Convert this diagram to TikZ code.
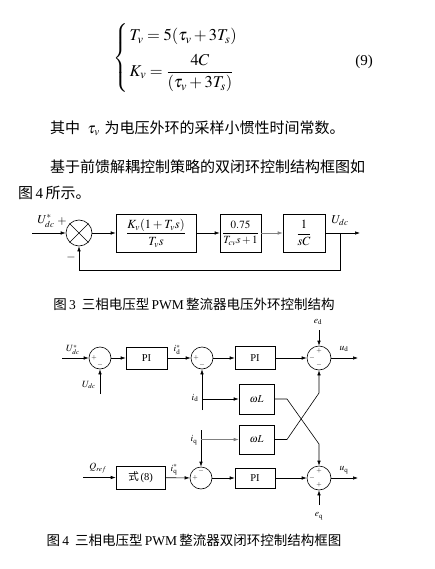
\documentclass[tikz,border=0pt]{standalone}
\usepackage{amsmath}
\usepackage{mathptmx}
\usepackage{fontspec}
\setmainfont{Liberation Serif}
\newfontfamily\cjk{Noto Sans CJK SC}
\usetikzlibrary{arrows.meta}
\tikzset{
  ln/.style={line width=0.6pt},
  ar/.style={ln,-{Latex[length=5pt,width=3.5pt]}},
  blk/.style={draw,ln,rectangle,inner sep=0pt},
  sumc/.style={draw,ln,circle,inner sep=0pt},
  lab/.style={inner sep=0pt,font=\fontsize{9.5}{10}\selectfont},
  sgn/.style={inner sep=0pt,font=\fontsize{7}{8}\selectfont},
  body/.style={inner sep=0pt,anchor=west,font=\fontsize{15}{18}\selectfont},
  captxt/.style={inner sep=0pt,font=\fontsize{13.5}{15}\selectfont},
}
\begin{document}
\begin{tikzpicture}[x=1pt,y=-1pt]
\fill[white] (0,0) rectangle (435,569);
\useasboundingbox (0,0) rectangle (435,569);

% equation
\node[inner sep=0pt,anchor=west,font=\fontsize{16.5}{20}\selectfont] (eq) at (113,58)
  {$\begin{cases} \,T_v = 5(\tau_v + 3T_s)\\[6pt] \,K_v = \dfrac{4C}{(\tau_v + 3T_s)}\end{cases}$};
\node[inner sep=0pt,font=\fontsize{15}{18}\selectfont] (eqn) at (364,62) {(9)};

% body text
\node[body] (t1) at (50,128) {{\cjk 其中}\,\,\,$\tau_v$\,\,{\cjk 为电压外环的采样小惯性时间常数。}};
\node[body] (t2) at (50,167) {\cjk 基于前馈解耦控制策略的双闭环控制结构框图如};
\node[body] (t3) at (18,193) {{\cjk 图}\,4\,{\cjk 所示。}};

% ---------------- Fig 3 ----------------
\coordinate (in3) at (32,233);
\node[sumc,minimum size=26pt] (s0) at (79,233) {};
\draw[ln] (s0.north west) -- (s0.south east) (s0.north east) -- (s0.south west);
\node[blk,minimum width=80pt,minimum height=38pt,font=\fontsize{12.5}{14}\selectfont] (b1) at (156,233) {$\dfrac{K_v(1+T_v s)}{T_v s}$};
\node[blk,minimum width=41pt,minimum height=38pt,font=\fontsize{11}{13}\selectfont] (b2) at (240.5,233) {$\dfrac{0.75}{T_{cv}s+1}$};
\node[blk,minimum width=42pt,minimum height=38pt,font=\fontsize{12.5}{14}\selectfont] (b3) at (304,233) {$\dfrac{1}{sC}$};
\coordinate (out3) at (360,233);
\coordinate (br3) at (340,233);
\coordinate (fb3) at (340,270);
\coordinate (fb3l) at (79,270);

\draw[ar] (in3) -- (s0);
\draw[ar] (s0) -- (b1);
\draw[ar] (b1) -- (b2);
\draw[ar,draw=gray] (b2) -- (b3);
\draw[ar] (b3) -- (out3);
\draw[ar] (br3) -- (fb3) -- (fb3l) -- (s0.south);

\node[lab,font=\fontsize{12}{12}\selectfont] (lu3) at (46,221) {$U_{dc}^{*}$};
\node[lab,font=\fontsize{12}{12}\selectfont] (lp3) at (62,222) {$+$};
\node[lab,font=\fontsize{12}{12}\selectfont] (lm3) at (71,257) {$-$};
\node[lab,font=\fontsize{12}{12}\selectfont] (lo3) at (340,221) {$U_{dc}$};

\node[captxt] (cap3) at (194,304) {{\cjk 图}\,3\;\,{\cjk 三相电压型}\,PWM\,{\cjk 整流器电压外环控制结构}};

% ---------------- Fig 4 ----------------
\node[sumc,minimum size=22pt] (c1) at (100,358) {};
\node[blk,minimum width=41pt,minimum height=22pt,font=\fontsize{10.5}{12}\selectfont] (pi1) at (146.5,358) {PI};
\node[sumc,minimum size=22pt] (c2) at (202,358) {};
\node[blk,minimum width=40pt,minimum height=23pt,font=\fontsize{10.5}{12}\selectfont] (pi2) at (255,358) {PI};
\node[sumc,minimum size=24pt] (c3) at (319,358) {};
\node[blk,minimum width=35pt,minimum height=30pt,font=\fontsize{10.5}{12}\selectfont] (wl1) at (256.5,399) {$\omega L$};
\node[blk,minimum width=35pt,minimum height=29pt,font=\fontsize{10.5}{12}\selectfont] (wl2) at (256.5,439.5) {$\omega L$};
\node[blk,minimum width=49pt,minimum height=23pt,font=\fontsize{10.5}{12}\selectfont] (qb) at (140.5,477.5) {{\cjk 式}\,(8)};
\node[sumc,minimum size=22pt] (c5) at (201,478) {};
\node[blk,minimum width=40pt,minimum height=20pt,font=\fontsize{10.5}{12}\selectfont] (pi3) at (255,478) {PI};
\node[sumc,minimum size=24pt] (c4) at (319,478) {};

\coordinate (in4) at (62,358);
\coordinate (udc4) at (100,394);
\coordinate (id4) at (202,410);
\coordinate (idb) at (202,399);
\coordinate (ud4) at (358,358);
\coordinate (ed4) at (319,330);
\coordinate (x1a) at (287,399);
\coordinate (x1b) at (319,444);
\coordinate (x2a) at (287,439.5);
\coordinate (x2b) at (319,393);
\coordinate (iq4) at (201,430);
\coordinate (iqb) at (201,439.5);
\coordinate (qin) at (83,477.5);
\coordinate (uq4) at (358,478);
\coordinate (eq4) at (319,505);

\draw[ar] (in4) -- (c1);
\draw[ar] (udc4) -- (c1.south);
\draw[ar] (c1) -- (pi1);
\draw[ar] (pi1) -- (c2);
\draw[ar] (id4) -- (c2.south);
\draw[ar] (idb) -- (wl1.west);
\draw[ar] (c2) -- (pi2);
\draw[ar] (pi2) -- (c3);
\draw[ar] (c3) -- (ud4);
\draw[ar] (ed4) -- (c3.north);
\draw[ar] (wl1.east) -- (x1a) -- (x1b) -- (c4.north);
\draw[ar] (wl2.east) -- (x2a) -- (x2b) -- (c3.south);
\draw[ar] (iq4) -- (c5.north);
\draw[ar,draw=gray] (iqb) -- (wl2.west);
\draw[ar] (qin) -- (qb);
\draw[ar] (qb) -- (c5);
\draw[ar] (c5) -- (pi3);
\draw[ar] (pi3) -- (c4);
\draw[ar] (c4) -- (uq4);
\draw[ar] (eq4) -- (c4.south);

% labels
\node[lab] (l1) at (73,350) {$U_{dc}^{*}$};
\node[lab] (l2) at (89,385) {$U_{dc}$};
\node[lab] (l3) at (177,350) {$i_{\mathrm{d}}^{*}$};
\node[lab] (l4) at (195,398) {$i_{\mathrm{d}}$};
\node[lab] (l5) at (344,349) {$u_{\mathrm{d}}$};
\node[lab] (l6) at (318,322) {$e_{\mathrm{d}}$};
\node[lab] (l7) at (194,440) {$i_{\mathrm{q}}$};
\node[lab] (l8) at (98,468) {$Q_{ref}$};
\node[lab] (l9) at (174,470) {$i_{\mathrm{q}}^{*}$};
\node[lab] (l10) at (344,470) {$u_{\mathrm{q}}$};
\node[lab] (l11) at (319,516) {$e_{\mathrm{q}}$};

% signs
\node[sgn] (g1) at (94,358) {$+$};
\node[sgn] (g2) at (100,365) {$-$};
\node[sgn] (g3) at (196,358) {$+$};
\node[sgn] (g4) at (202,365) {$-$};
\node[sgn] (g5) at (319,351) {$+$};
\node[sgn] (g6) at (312,358) {$-$};
\node[sgn] (g7) at (319,365) {$-$};
\node[sgn] (g8) at (195,478) {$+$};
\node[sgn] (g9) at (201,471) {$-$};
\node[sgn] (g10) at (319,471) {$+$};
\node[sgn] (g11) at (312,478) {$-$};
\node[sgn] (g12) at (319,485) {$+$};

\node[captxt] (cap4) at (194,540) {{\cjk 图}\,4\;\,{\cjk 三相电压型}\,PWM\,{\cjk 整流器双闭环控制结构框图}};
\end{tikzpicture}
\end{document}
